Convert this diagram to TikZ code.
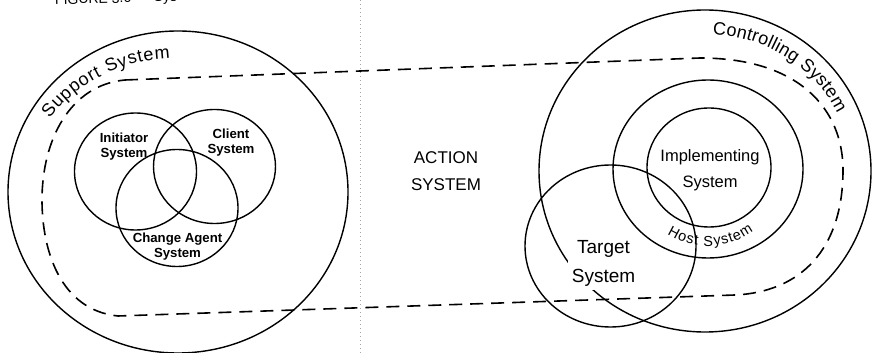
\documentclass[tikz,border=0pt]{standalone}
\usepackage{fontspec}
\setmainfont{Liberation Sans}
\usetikzlibrary{decorations.text}
\begin{document}
\begin{tikzpicture}[x=1pt,y=1pt,
  ring/.style={line width=1.4pt},
  dashring/.style={line width=1.6pt, dash pattern=on 13pt off 8pt},
  venn/.style={align=center, inner sep=0pt, font=\fontsize{13.2}{15}\selectfont\bfseries},
  big/.style={align=center, inner sep=0pt, font=\fontsize{17}{27}\selectfont},
  fold/.style={gray!70, line width=0.6pt, dash pattern=on 1pt off 3pt}]
\useasboundingbox (0,0) rectangle (872,353);
% centres
\coordinate (sc) at (178,161);
\coordinate (ini) at (135.5,181.5);
\coordinate (cli) at (214.5,186.5);
\coordinate (cha) at (177,145);
\coordinate (rc) at (705,182);
\coordinate (hc) at (708,184);
\coordinate (ic) at (709,185.5);
\coordinate (tc) at (610.5,107);
% fold line of the scan
\coordinate (f1) at (360,0);
\coordinate (f2) at (360,353);
\draw[fold] (f1) -- (f2);
% caption (cut off at the top)
\node[anchor=base west, inner sep=0pt, rotate=1.5, font=\fontsize{14}{14}\selectfont] (cap) at (55,348.5) {FIGURE 3.6\hspace{1.6em}Sys};
% left side
\draw[ring] (sc) ellipse [x radius=170, y radius=161];
\draw[ring] (ini) ellipse [x radius=61, y radius=58.5];
\draw[ring] (cli) ellipse [x radius=61, y radius=57];
\draw[ring] (cha) ellipse [x radius=61, y radius=58.5];
% right side
\draw[ring] (rc) ellipse [x radius=166, y radius=161];
\draw[ring] (hc) ellipse [x radius=95, y radius=89];
\draw[ring] (ic) ellipse [x radius=62, y radius=59.5];
\draw[ring] (tc) ellipse [x radius=85.5, y radius=81];
% dashed action system boundary
\draw[dashring] (125,273) -- (700,295)
  .. controls (800,295) and (843,243) .. (843,183)
  .. controls (843,103) and (800,61) .. (735,58)
  -- (118,37)
  .. controls (60,43) and (42,103) .. (42,153)
  .. controls (42,213) and (70,268) .. cycle;
% labels
\node[venn] (tini) at (124,206.5) {Initiator\\System};
\node[venn] (tcli) at (231,210) {Client\\System};
\node[venn] (tcha) at (177.5,106.5) {Change Agent\\System};
\node[big] (tact) at (446,182) {ACTION\\SYSTEM};
\node[big, font=\fontsize{16.5}{26}\selectfont] (timp) at (710,183) {Implementing\\System};
\node[big, font=\fontsize{19}{29}\selectfont, fill=white, inner sep=4pt] (ttar) at (603.5,90) {Target\\System};
% curved labels
\path[decorate, decoration={text along path, text align=fit to path,
  text={|\fontsize{18}{18}\selectfont|Support System}}]
  (sc) ++(147:153 and 134) arc[start angle=147, end angle=93, x radius=153, y radius=134];
\path[decorate, decoration={text along path, text align=fit to path,
  text={|\fontsize{18}{18}\selectfont|Controlling System}}]
  (rc) ++(87:146 and 137) arc[start angle=87, end angle=25, x radius=146, y radius=137];
\path[decorate, decoration={text along path, text align=fit to path,
  text={|\fontsize{14.5}{14.5}\selectfont|Host System}}]
  (hc) ++(238:77 and 77) arc[start angle=238, end angle=306, x radius=77, y radius=77];
\end{tikzpicture}
\end{document}
